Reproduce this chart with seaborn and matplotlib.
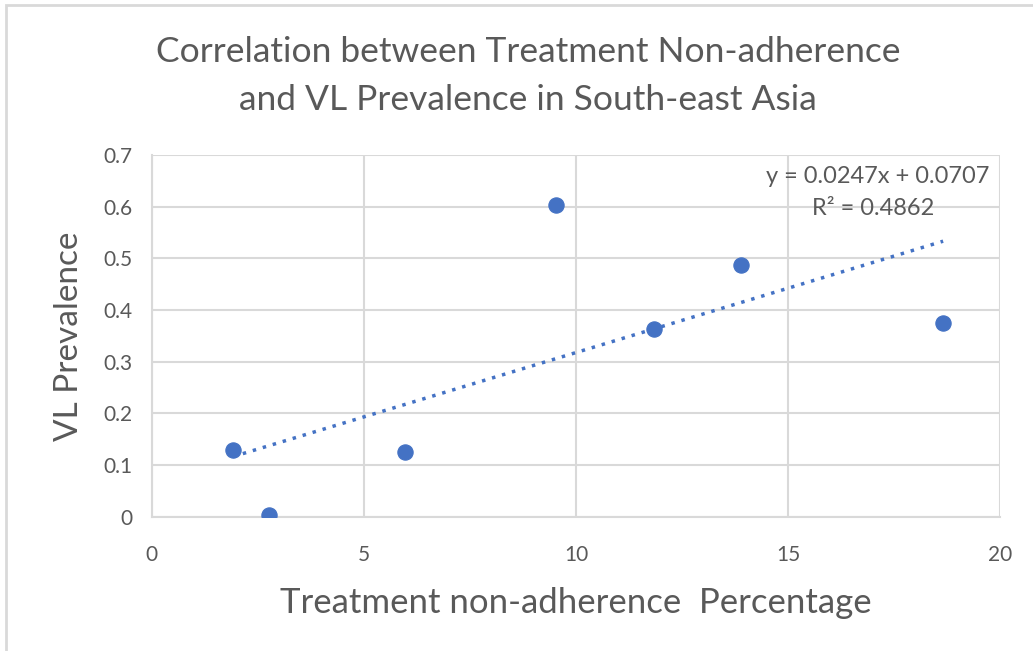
import numpy as np
import pandas as pd
import matplotlib
matplotlib.use("Agg")
import matplotlib.pyplot as plt
import seaborn as sns
from matplotlib.patches import Rectangle

# values
non_adherence = [1.91, 2.76, 5.97, 9.53, 11.84, 13.89, 18.66]
vl_prevalence = [0.130, 0.004, 0.126, 0.603, 0.364, 0.487, 0.375]
x_ticks = [0, 5, 10, 15, 20]
y_ticks = [0, 0.1, 0.2, 0.3, 0.4, 0.5, 0.6, 0.7]
y_tick_labels = ["0", "0.1", "0.2", "0.3", "0.4", "0.5", "0.6", "0.7"]

df = pd.DataFrame({"x": non_adherence, "y": vl_prevalence})

sns.set_style("white")
plt.rcParams['font.family'] = ['Lato', 'DejaVu Sans']
text_col = "#595959"
grid_col = "#d9d9d9"
blue = "#4472C4"

fig = plt.figure(figsize=(10.33, 6.51), dpi=100)
ax = fig.add_axes([0.147, 0.206, 0.821, 0.556])

# chart frame (light grey border on top / left)
fig.patches.append(Rectangle((6 / 1033, -0.1), 1.2, 1.1 - 5 / 651, transform=fig.transFigure,
                             fill=False, edgecolor="#d9d9d9", linewidth=2))

sns.scatterplot(data=df, x="x", y="y", ax=ax, s=120, color=blue, edgecolor=blue, zorder=3)

# linear trendline
slope, intercept = np.polyfit(df["x"], df["y"], 1)
xs = np.array([df["x"].min(), df["x"].max()])
ax.plot(xs, slope * xs + intercept, linestyle=(0, (1, 2)), color=blue, linewidth=2.5, zorder=2)

ax.text(19.75, 0.659, "y = 0.0247x + 0.0707", ha="right", va="center", fontsize=17, color=text_col)
ax.text(17.0, 0.597, "R² = 0.4862", ha="center", va="center", fontsize=17, color=text_col)

ax.set_xlim(0, 20)
ax.set_ylim(0, 0.7)
ax.set_xticks(x_ticks)
ax.set_yticks(y_ticks)
ax.set_yticklabels(y_tick_labels)
ax.grid(True, color=grid_col, linewidth=1.5)
for side in ["top", "right"]:
    ax.spines[side].set_visible(False)
for side in ["left", "bottom"]:
    ax.spines[side].set_color(grid_col)
    ax.spines[side].set_linewidth(1.5)
ax.tick_params(colors=text_col, labelsize=15, length=0)
ax.tick_params(axis="x", pad=20)
ax.tick_params(axis="y", pad=14)

ax.set_xlabel("Treatment non-adherence  Percentage", fontsize=25, color=text_col, labelpad=16)
ax.set_ylabel("VL Prevalence", fontsize=24, color=text_col, labelpad=14)
fig.text(0.511, 0.883, "Correlation between Treatment Non-adherence\nand VL Prevalence in South-east Asia",
         ha="center", va="center", fontsize=25.5, color=text_col, linespacing=1.6)

fig.savefig("out.png", dpi=100)
